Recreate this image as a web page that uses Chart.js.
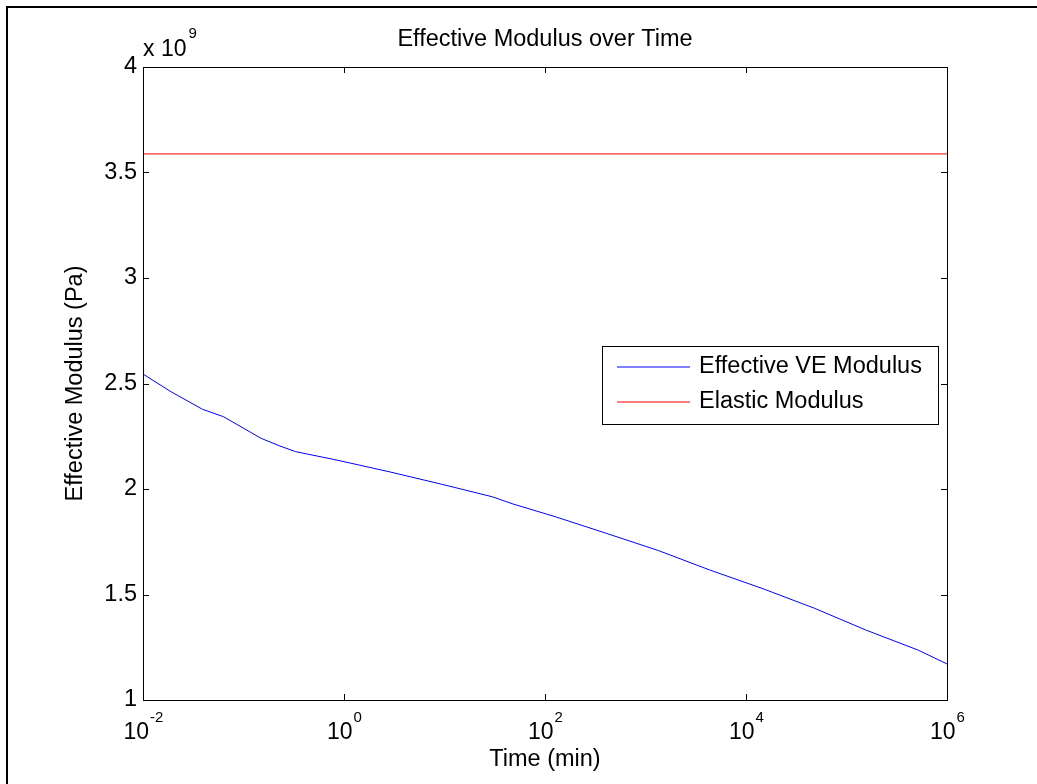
<!DOCTYPE html>
<html>
<head>
<meta charset="utf-8">
<script src="https://cdn.jsdelivr.net/npm/chart.js@4.4.1/dist/chart.umd.min.js"></script>
<style>
html, body { margin: 0; padding: 0; background: #fff; overflow: hidden; }
#wrap { width: 1037px; height: 784px; position: relative; }
canvas { display: block; }
</style>
</head>
<body>
<div id="wrap"><canvas id="modulusChart" width="1037" height="784"></canvas></div>
<script>
// time in minutes, modulus in units of 10^9 Pa
const timeMin = [0.01, 0.019, 0.039, 0.063, 0.15, 0.23, 0.33, 0.85, 2.8, 9.1, 30, 48, 126, 407, 1350, 4365, 14450, 47860, 155000, 513000, 1e6];
const veModulus = [2.545, 2.461, 2.378, 2.343, 2.240, 2.204, 2.177, 2.137, 2.082, 2.024, 1.963, 1.929, 1.869, 1.790, 1.708, 1.616, 1.529, 1.435, 1.332, 1.237, 1.171];
const elasticTime = [0.01, 1e6];
const elasticModulus = [3.588, 3.588];
const seriesNames = ['Effective VE Modulus', 'Elastic Modulus'];
const seriesColors = ['#0000ff', '#ff0000'];
const xTicks = [1e-2, 1e0, 1e2, 1e4, 1e6];
const xTickExp = ['-2', '0', '2', '4', '6'];
const yTicks = [1, 1.5, 2, 2.5, 3, 3.5, 4];

const FONT = 'Liberation Sans, Arial, Helvetica, sans-serif';
Chart.defaults.font.family = FONT;
Chart.defaults.color = '#000';

// MATLAB-ish look: box, inward ticks, 10^n labels, exponent note and legend
const matlabFrame = {
    id: 'matlabFrame',
    afterDraw(chart) {
        const ctx = chart.ctx;
        const a = chart.chartArea;
        const x = chart.scales.x, y = chart.scales.y;
        ctx.save();
        ctx.strokeStyle = '#000';
        ctx.fillStyle = '#000';

        // figure frame (only left and top are inside the picture)
        ctx.lineWidth = 2;
        ctx.strokeRect(7, 7, 2000, 2000);

        // axes box
        ctx.lineWidth = 1;
        ctx.strokeRect(Math.round(a.left) + 0.5, Math.round(a.top) + 0.5,
            Math.round(a.right - a.left), Math.round(a.bottom - a.top));

        // inward ticks
        ctx.beginPath();
        yTicks.forEach(v => {
            const py = Math.round(y.getPixelForValue(v * 1e9)) + 0.5;
            ctx.moveTo(a.left, py); ctx.lineTo(a.left + 6, py);
            ctx.moveTo(a.right, py); ctx.lineTo(a.right - 6, py);
        });
        xTicks.forEach(v => {
            const px = Math.round(x.getPixelForValue(v)) + 0.5;
            ctx.moveTo(px, a.bottom); ctx.lineTo(px, a.bottom - 6);
            ctx.moveTo(px, a.top); ctx.lineTo(px, a.top + 6);
        });
        ctx.stroke();

        // x tick labels as 10^n
        ctx.textBaseline = 'alphabetic';
        ctx.textAlign = 'left';
        xTicks.forEach((v, i) => {
            const px = x.getPixelForValue(v);
            ctx.font = '23px ' + FONT;
            const wBase = ctx.measureText('10').width;
            ctx.font = '15px ' + FONT;
            const wExp = ctx.measureText(xTickExp[i]).width;
            const left = px - (wBase + wExp) / 2;
            ctx.font = '23px ' + FONT;
            ctx.fillText('10', left, 739);
            ctx.font = '15px ' + FONT;
            ctx.fillText(xTickExp[i], left + wBase + 1, 722);
        });

        // y exponent note
        ctx.font = '23px ' + FONT;
        ctx.fillText('x 10', a.left, 56);
        const wNote = ctx.measureText('x 10').width;
        ctx.font = '15px ' + FONT;
        ctx.fillText('9', a.left + wNote + 2, 38);

        // legend box
        const lx = 602, ly = 346, lw = 336, lh = 78;
        ctx.fillStyle = '#fff';
        ctx.fillRect(lx, ly, lw, lh);
        ctx.strokeStyle = '#000';
        ctx.strokeRect(lx + 0.5, ly + 0.5, lw, lh);
        ctx.font = '23.5px ' + FONT;
        ctx.textBaseline = 'middle';
        seriesNames.forEach((name, i) => {
            const rowY = 367 + i * 35;
            ctx.strokeStyle = seriesColors[i];
            ctx.lineWidth = 1.2;
            ctx.beginPath();
            ctx.moveTo(617, rowY); ctx.lineTo(690, rowY);
            ctx.stroke();
            ctx.fillStyle = '#000';
            ctx.fillText(name, 699, rowY);
        });
        ctx.restore();
    }
};

const ctx = document.getElementById('modulusChart').getContext('2d');
new Chart(ctx, {
    type: 'line',
    data: {
        datasets: [{
            label: seriesNames[0],
            data: timeMin.map((t, i) => ({ x: t, y: veModulus[i] * 1e9 })),
            borderColor: seriesColors[0],
            borderWidth: 1,
            pointRadius: 0,
            tension: 0
        }, {
            label: seriesNames[1],
            data: elasticTime.map((t, i) => ({ x: t, y: elasticModulus[i] * 1e9 })),
            borderColor: seriesColors[1],
            borderWidth: 1,
            pointRadius: 0,
            tension: 0
        }]
    },
    options: {
        responsive: false,
        animation: false,
        layout: { padding: { left: 0, right: 90, top: 0, bottom: 0 } },
        plugins: {
            legend: { display: false },
            tooltip: { enabled: false },
            title: {
                display: true,
                fullSize: false,
                text: 'Effective Modulus over Time',
                color: '#000',
                font: { size: 23.5, weight: 'normal' },
                padding: { top: 25, bottom: 13.8 }
            }
        },
        scales: {
            x: {
                type: 'logarithmic',
                min: 0.01,
                max: 1e6,
                grid: { display: false, drawTicks: false },
                border: { display: false },
                ticks: { display: false },
                afterBuildTicks(s) { s.ticks = xTicks.map(v => ({ value: v })); },
                afterFit(s) { s.height = 84; },
                title: {
                    display: true,
                    text: 'Time (min)',
                    color: '#000',
                    font: { size: 23.5 },
                    padding: { top: 0, bottom: 10 }
                }
            },
            y: {
                min: 1e9,
                max: 4e9,
                grid: { display: false, drawTicks: false },
                border: { display: false },
                ticks: {
                    stepSize: 0.5e9,
                    color: '#000',
                    font: { size: 23.5 },
                    padding: 6,
                    callback: v => String(v / 1e9)
                },
                afterFit(s) { s.width = 143; },
                title: {
                    display: true,
                    text: 'Effective Modulus (Pa)',
                    color: '#000',
                    font: { size: 23.5 },
                    padding: { top: 61, bottom: 0 }
                }
            }
        }
    },
    plugins: [matlabFrame]
});
</script>
</body>
</html>
